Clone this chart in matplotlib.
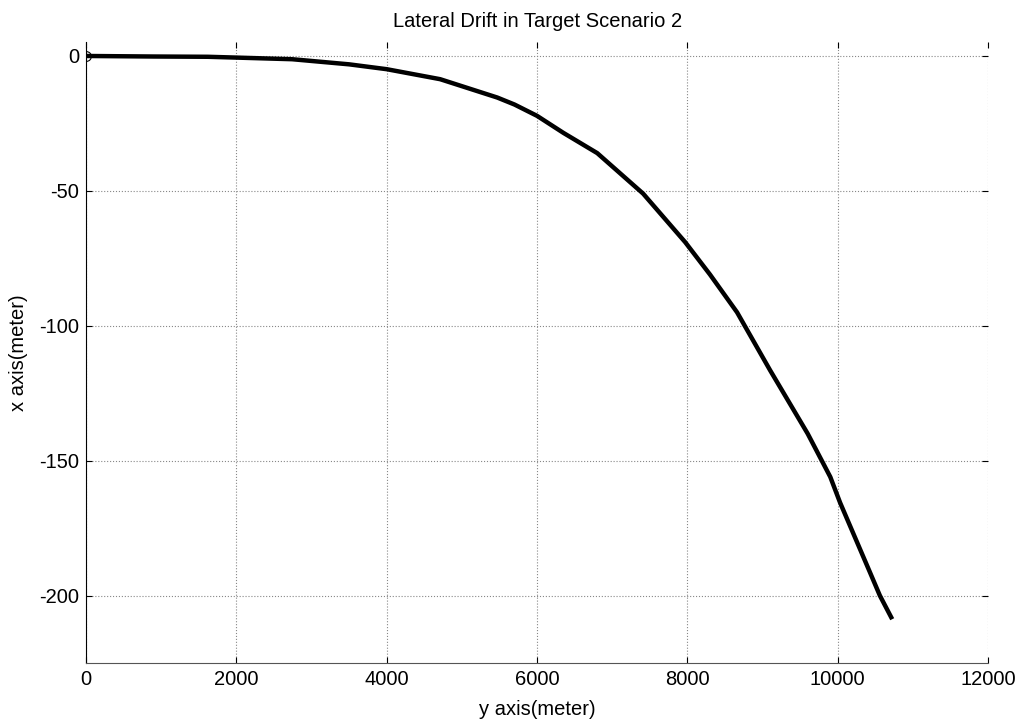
import matplotlib
matplotlib.use('Agg')
import matplotlib.pyplot as plt

plt.rcParams['font.family'] = ['Liberation Sans', 'DejaVu Sans']
plt.rcParams['axes.unicode_minus'] = False

# trajectory
y_axis = [0, 900, 1620, 2000, 2740, 3500, 4000, 4710, 5470, 5700, 6000, 6350,
          6800, 7410, 7970, 8300, 8660, 9100, 9600, 9900, 10030, 10430, 10560, 10710]
x_axis = [0, -0.2, -0.3, -0.6, -1.2, -3.1, -4.9, -8.6, -15.4, -18, -22.2, -28.5,
          -36, -51, -69, -81, -95, -116.5, -140, -156, -165.5, -191.5, -200, -208]
xticks = [0, 2000, 4000, 6000, 8000, 10000, 12000]
yticks = [0, -50, -100, -150, -200]

fig = plt.figure(figsize=(10.24, 7.2), dpi=100)
ax = fig.add_axes([0.084, 0.079, 0.881, 0.862])

ax.plot(y_axis, x_axis, color='black', linewidth=3.2, solid_joinstyle='round')
ax.plot(y_axis[0], x_axis[0], marker='o', markersize=7, markerfacecolor='none',
        markeredgecolor='black', markeredgewidth=0.8)

ax.set_xlim(0, 12000)
ax.set_ylim(-225, 5)
ax.set_xticks(xticks)
ax.set_yticks(yticks)
ax.grid(True, color='#888888', linestyle=':', linewidth=0.8)
ax.tick_params(direction='in', length=4, top=True, right=True, labelsize=14.5, pad=5)
ax.spines['top'].set_visible(False)
ax.spines['right'].set_visible(False)
ax.spines['bottom'].set_color('#555555')

ax.set_title('Lateral Drift in Target Scenario 2', fontsize=14.5, pad=11)
ax.set_xlabel('y axis(meter)', fontsize=14.5, labelpad=8)
ax.set_ylabel('x axis(meter)', fontsize=14.5, labelpad=8)

fig.savefig('out.png', dpi=100)
